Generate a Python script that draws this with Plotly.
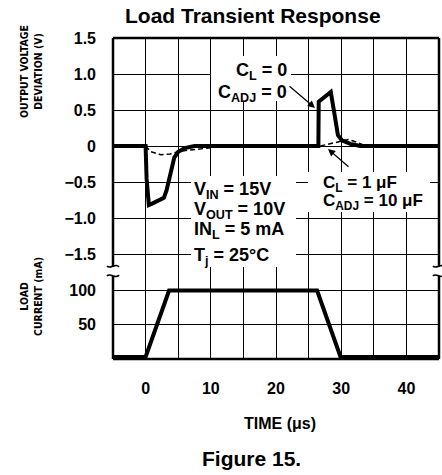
import plotly.graph_objects as go
from plotly.subplots import make_subplots

# ---------------- data ----------------
# C_L = 0, C_ADJ = 0 : output voltage deviation (V) vs time (us)
t_cl0 = [-5, 0, 0.15, 0.5, 1.0, 2.0, 2.8, 3.2, 3.6, 4.0, 4.4, 5.0, 6.0, 7.5,
         26.5, 26.55, 27.0, 28.4, 28.9, 29.2, 29.5, 30.1, 31.4, 32.9, 45]
v_cl0 = [0, 0, -0.45, -0.82, -0.80, -0.76, -0.72, -0.62, -0.45, -0.28, -0.16, -0.08, -0.03, 0,
         0, 0.615, 0.65, 0.75, 0.48, 0.27, 0.15, 0.08, 0.03, 0, 0]

# C_L = 1 uF, C_ADJ = 10 uF : dashed curve (two separate transients)
t_cl1_a = [0, 0.8, 2.3, 3.8, 5.4, 6.9, 9.2, 10.5]
v_cl1_a = [0, -0.08, -0.12, -0.11, -0.07, -0.055, -0.03, -0.02]
t_cl1_b = [26.8, 28.1, 29.4, 31.1, 32.2, 33.4, 34.5]
v_cl1_b = [0, 0.03, 0.06, 0.09, 0.06, 0.015, 0]

# load current (mA)
t_load = [-5, 0, 3.6, 26.3, 29.9, 45]
i_load = [3, 3, 100, 100, 3, 3]

x_tickvals = [0, 10, 20, 30, 40]
x_ticktext = ["0", "10", "20", "30", "40"]
x_minorvals = [5, 15, 25, 35]
v_tickvals = [-1.5, -1.0, -0.5, 0, 0.5, 1.0, 1.5]
v_ticktext = ["\u22121.5", "\u22121.0", "\u22120.5", "0", "0.5", "1.0", "1.5"]
i_tickvals = [50, 100]
i_ticktext = ["50", "100"]

# ---------------- geometry helpers (pixels -> paper) ----------------
W, H = 442, 475
PL, PR, PT, PB = 113, 439, 38, 359


def px(x):
    return (x - PL) / (PR - PL)


def py(y):
    return (PB - y) / (PB - PT)


BOLD = "Liberation Sans, Arial, sans-serif"
NARROW = "Liberation Sans Narrow, Arial Narrow, DejaVu Sans Condensed, Liberation Sans, sans-serif"

fig = make_subplots(rows=2, cols=1, shared_xaxes=True, vertical_spacing=0,
                    row_heights=[234, 87])

fig.add_trace(go.Scatter(x=t_cl0, y=v_cl0, mode="lines",
                         line=dict(color="black", width=4), showlegend=False), row=1, col=1)
fig.add_trace(go.Scatter(x=t_cl1_a, y=v_cl1_a, mode="lines",
                         line=dict(color="black", width=1.5, dash="5px,3px"), showlegend=False), row=1, col=1)
fig.add_trace(go.Scatter(x=t_cl1_b, y=v_cl1_b, mode="lines",
                         line=dict(color="black", width=1.5, dash="5px,3px"), showlegend=False), row=1, col=1)
fig.add_trace(go.Scatter(x=t_load, y=i_load, mode="lines",
                         line=dict(color="black", width=4), showlegend=False), row=2, col=1)

GRID = dict(showgrid=True, gridcolor="black", gridwidth=1.3, zeroline=False, showline=False, ticks="")
tickfont = dict(family=BOLD, size=16, color="black", weight=700)
fig.update_xaxes(range=[-5, 45], tickmode="array", tickvals=x_tickvals, ticktext=x_ticktext,
                 tickfont=tickfont,
                 minor=dict(tickmode="array", tickvals=x_minorvals, showgrid=True,
                            gridcolor="black", gridwidth=1.3, ticks=""),
                 **GRID)
fig.update_xaxes(showticklabels=False, row=1, col=1)
fig.update_xaxes(ticklabelstandoff=18, row=2, col=1)

fig.update_yaxes(range=[-1.75, 1.5], tickmode="array", tickvals=v_tickvals, ticktext=v_ticktext,
                 tickfont=tickfont, ticklabelstandoff=16, row=1, col=1, **GRID)
fig.update_yaxes(range=[0, 127], tickmode="array", tickvals=i_tickvals, ticktext=i_ticktext,
                 tickfont=tickfont, ticklabelstandoff=16, row=2, col=1, **GRID)

# ---------------- white gaps behind the in-plot labels ----------------
def gap(x0, y0, x1, y1):
    fig.add_shape(type="rect", xref="paper", yref="paper", layer="above",
                  x0=px(x0), y0=py(y0), x1=px(x1), y1=py(y1),
                  fillcolor="white", line=dict(width=0))


gap(211, 56, 291, 101)
gap(191, 176, 296, 267)
gap(308, 172, 430, 212)

# ---------------- frame with axis break ----------------
def seg(x0, y0, x1, y1, w=2.5):
    fig.add_shape(type="line", xref="paper", yref="paper",
                  x0=px(x0), y0=py(y0), x1=px(x1), y1=py(y1),
                  line=dict(color="black", width=w))


seg(PL, PT, PR, PT)
seg(PL, PB, PR, PB)
for xb in (PL, PR):
    seg(xb, PT, xb, 267)
    seg(xb, 276, xb, PB)


def path(points):
    (x0, y0), rest = points[0], points[1:]
    d = f"M {px(x0)},{py(y0)} C " + " ".join(f"{px(a)},{py(b)}" for a, b in rest)
    fig.add_shape(type="path", xref="paper", yref="paper", path=d,
                  line=dict(color="black", width=1.6))


for xb in (PL, PR):
    path([(xb - 6, 266), (xb - 3, 270), (xb + 3, 262), (xb + 6, 267)])
    path([(xb - 6, 276), (xb - 3, 272), (xb + 3, 280), (xb + 6, 275)])

# ---------------- texts ----------------
def ann(text, x, y, size=16, family=BOLD, xanchor="center", yanchor="middle",
        angle=0, align="center"):
    fig.add_annotation(text=text, xref="paper", yref="paper", x=px(x), y=py(y),
                       xanchor=xanchor, yanchor=yanchor, showarrow=False,
                       textangle=angle, align=align, borderpad=0,
                       font=dict(family=family, size=size, color="black", weight=700))


ann("Load Transient Response", 253, 16, size=21)
ann("Figure 15.", 251, 458, size=21)
ann("TIME (\u03bcs)", 280, 423, size=16)

ann("OUTPUT VOLTAGE<br>DEVIATION (V)", 31, 72, size=10.5, family=NARROW, angle=-90)
ann("LOAD<br>CURRENT (mA)", 31, 297, size=10.5, family=NARROW, angle=-90)

ann("C<sub>L</sub> = 0", 288, 71, size=18, xanchor="right")
ann("C<sub>ADJ</sub> = 0", 288, 93, size=18, xanchor="right")

ann("V<sub>IN</sub> = 15V", 193, 190, size=18, xanchor="left")
ann("V<sub>OUT</sub> = 10V", 193, 210, size=18, xanchor="left")
ann("IN<sub>L</sub> = 5 mA", 193, 230, size=18, xanchor="left")
ann("T<sub>j</sub> = 25\u00b0C", 193, 256, size=18, xanchor="left")

ann("C<sub>L</sub> = 1 \u03bcF", 322, 184, size=17, xanchor="left")
ann("C<sub>ADJ</sub> = 10 \u03bcF", 322, 202, size=17, xanchor="left")

# arrows (tail offsets in pixels)
fig.add_annotation(xref="paper", yref="paper", x=px(315), y=py(108),
                   ax=-27, ay=-23, axref="pixel", ayref="pixel",
                   text="", showarrow=True, arrowhead=2, arrowsize=1.2, arrowwidth=1.2,
                   arrowcolor="black")
fig.add_annotation(xref="paper", yref="paper", x=px(328), y=py(149),
                   ax=22, ay=19, axref="pixel", ayref="pixel",
                   text="", showarrow=True, arrowhead=2, arrowsize=1.2, arrowwidth=1.2,
                   arrowcolor="black")

fig.update_layout(width=W, height=H, plot_bgcolor="white", paper_bgcolor="white",
                  margin=dict(l=PL, r=W - PR, t=PT, b=H - PB), showlegend=False)

fig.write_html("out.html", config={"displayModeBar": False},
               post_script="document.body.style.margin='0';")
